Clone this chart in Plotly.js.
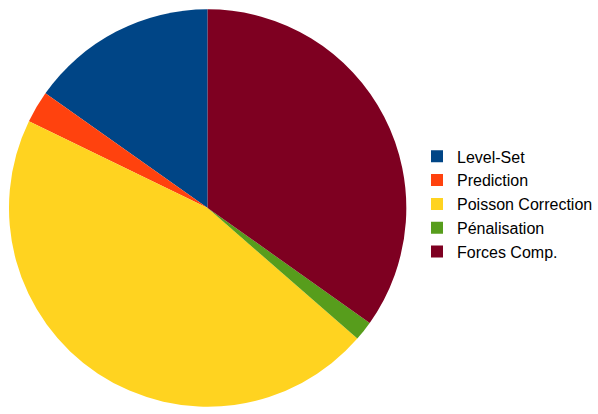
<!DOCTYPE html>
<html>
<head>
<meta charset="utf-8">
<script src="https://cdn.plot.ly/plotly-3.0.1.min.js"></script>
<style>html,body{margin:0;padding:0;background:#fff;}#chart{width:598px;height:414px;}</style>
</head>
<body>
<div id="chart"></div>
<script>
var labels = ["Level-Set", "Prediction", "Poisson Correction", "Pénalisation", "Forces Comp."];
var values = [15.2, 2.6, 45.75, 1.6, 34.8];
var colors = ["#004586", "#ff420e", "#ffd320", "#579d1c", "#7e0021"];

// Plotly starts a counterclockwise pie at rotation + first slice; shift so the first slice starts at 12 o'clock
var total = values.reduce(function (a, b) { return a + b; }, 0);
var startRotation = -values[0] / total * 360;

var trace = {
  type: "pie",
  labels: labels,
  values: values,
  sort: false,
  direction: "counterclockwise",
  rotation: startRotation,
  textinfo: "none",
  hoverinfo: "label+percent",
  marker: {colors: colors, line: {width: 0}},
  domain: {x: [9/598, 407/598], y: [7/414, 405/414]}
};

var layout = {
  width: 598,
  height: 414,
  margin: {l: 0, r: 0, t: 0, b: 0},
  paper_bgcolor: "#ffffff",
  showlegend: true,
  legend: {
    x: 418/598, xanchor: "left",
    y: 1 - 139.4/414, yanchor: "top",
    font: {family: "Liberation Sans, Arial, sans-serif", size: 16, color: "#000000"},
    bgcolor: "rgba(0,0,0,0)",
    borderwidth: 0
  }
};

Plotly.newPlot("chart", [trace], layout, {staticPlot: true});
</script>
</body>
</html>
